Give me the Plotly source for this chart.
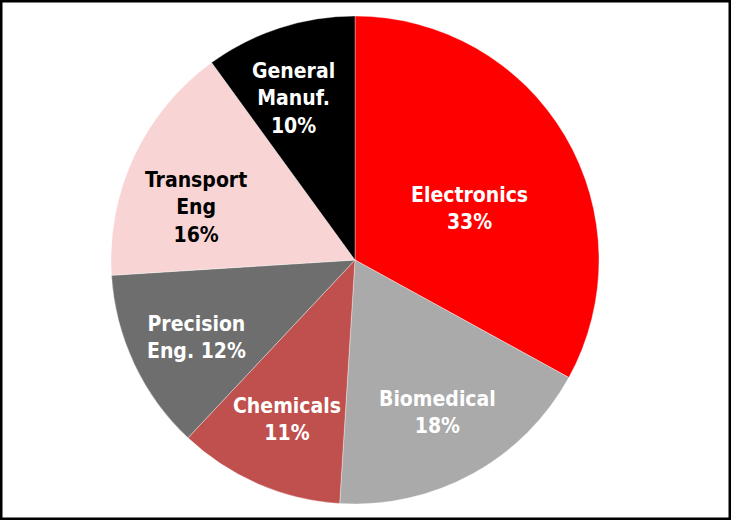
import math
import plotly.graph_objects as go

labels = ["Electronics", "Biomedical", "Chemicals", "Precision Eng.", "Transport Eng", "General Manuf."]
values = [33, 18, 11, 12, 16, 10]
label_text = ["Electronics<br>33%", "Biomedical<br>18%", "Chemicals<br>11%",
              "Precision<br>Eng. 12%", "Transport<br>Eng<br>16%", "General<br>Manuf.<br>10%"]
colors = ["#FF0000", "#AAAAAA", "#C0504D", "#6E6E6E", "#F9D4D4", "#000000"]
text_colors = ["white", "white", "white", "white", "black", "white"]
label_radius = [0.52, 0.70, 0.70, 0.72, 0.69, 0.72]
label_angle_shift = [5, 0, 0, 0, -6, -2.6]

W, H = 731, 520
cx, cy, R = 355, 260, 244

fig = go.Figure(go.Pie(
    labels=labels, values=values, sort=False, direction="clockwise", rotation=0,
    marker=dict(colors=colors, line=dict(color="rgba(255,255,255,0.6)", width=0.6)),
    textinfo="none", hoverinfo="label+percent", showlegend=False,
    domain=dict(x=[(cx - R) / W, (cx + R) / W], y=[1 - (cy + R) / H, 1 - (cy - R) / H]),
))

total = sum(values)
cum = 0
annotations = []
for v, t, tc, rf, sh in zip(values, label_text, text_colors, label_radius, label_angle_shift):
    mid = (cum + v / 2) / total * 2 * math.pi + math.radians(sh)
    cum += v
    px = cx + rf * R * math.sin(mid)
    py = cy + 3 - rf * R * math.cos(mid)
    annotations.append(dict(
        x=px / W, y=1 - py / H, xref="paper", yref="paper", text="<b>" + t + "</b>",
        showarrow=False, xanchor="center", yanchor="middle", align="center",
        font=dict(family="Liberation Sans Narrow, Arial Narrow, DejaVu Sans Condensed, Liberation Sans", size=21, color=tc),
    ))

fig.update_layout(
    width=W, height=H, margin=dict(l=0, r=0, t=0, b=0),
    paper_bgcolor="white", plot_bgcolor="white",
    annotations=annotations,
    shapes=[dict(type="rect", xref="paper", yref="paper", x0=0, y0=0, x1=1, y1=1,
                 line=dict(color="black", width=5))],
)
fig.write_html("out.html")
